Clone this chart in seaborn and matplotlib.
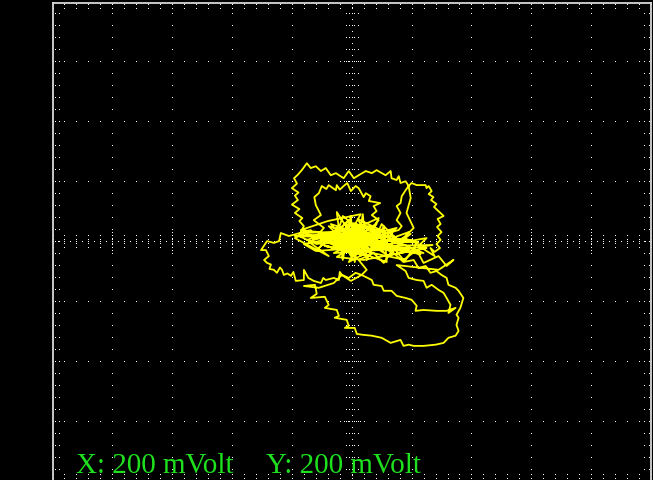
import numpy as np
import pandas as pd
import matplotlib
matplotlib.use("Agg")
import matplotlib.pyplot as plt
import seaborn as sns

# X/Y trace samples in mV (200 mV per division), in acquisition order
core_x = [-10, -43, 10, -77, 30, -27, 63, -50, -3, 40, -60, 90, -17, 23, -93, 57, -37, 7, -117, -177]
core_y = [-3, 20, -20, 7, 27, -27, 0, 47, -47, 53, -13, 13, 60, -37, 30, -20, 7, 40, -7, 20]

rim_x = [-160, -175, -165, -190, -175, -200, -180, -190, -178, -200, -183, -193, -180,
         -167, -150, -137, -120, -103, -87, -70, -53, -27, -10, 7, 23, 47, 67, 83, 113,
         130, 133, 150, 157, 163, 180, 190, 200, 217, 230, 247, 250, 257,
         267, 257, 273, 265, 283, 275, 290, 307, 287, 297, 285, 300, 287, 297, 283, 295, 277, 263, 277]
rim_y = [53, 70, 80, 97, 110, 125, 140, 155, 165, 180, 195, 213, 225,
         240, 263, 247, 253, 237, 247, 223, 230, 213, 237, 213, 223, 237, 230, 240, 223,
         237, 213, 207, 220, 197, 203, 187, 197, 190, 190, 190, 180, 187,
         170, 160, 150, 140, 127, 117, 103, 87, 77, 60, 50, 33, 20, 7, -7, -20, -33, -20, -47]

sweep_x = [223, 250, 157, 197, 107, 140, 57, 123, 23, 83, -27, 43, -70, -10, -110, -43, -143, -77, -190, -137, -210]
sweep_y = [-13, 13, -3, 27, -20, 40, 7, -47, 20, 60, -7, -40, 13, 73, -20, 40, 0, -47, 13, 40, 20]

left_x = [-237, -243, -260, -283, -303, -287, -277, -293, -283, -270, -275, -260, -250, -240, -233, -227,
          -215, -203, -195, -187, -160, -160, -145, -127, -103, -95, -87, -60, -43, -40, -33, -10,
          13, 33, 50]
left_y = [30, 3, -3, 3, -27, -27, -47, -60, -70, -75, -90, -93, -103, -85, -93, -110,
          -105, -113, -100, -130, -127, -93, -120, -130, -137, -120, -127, -120, -127, -100, -110, -120,
          -103, -110, -93]

mid_x = [23, 73, 107, 140, 173, 217, 240, 290, 317, 340, 290]
mid_y = [-60, -37, -70, -20, -60, -27, -70, -47, -80, -60, -93]

band_x = [150, 180, 190, 217, 240, 250, 267, 290, 307, 317, 330, 323, 347, 317, 283, 240,
          213, 217, 200, 180, 150, 133, 107, 100, 73, 67, 33, -3, -33]
band_y = [-77, -97, -120, -127, -130, -153, -143, -160, -170, -187, -210, -237, -220, -230, -230, -227,
          -230, -213, -193, -187, -180, -163, -163, -147, -143, -127, -110, -130, -110]

low_x = [-60, -110, -160, -123, -117, -137, -90, -77, -90, -50, -43, -57, -17, -10, -23, 10,
         17, 37, 67, 100, 130, 163, 173, 190, 207, 240, 280, 307, 323, 347, 357, 350,
         357, 350, 363, 373, 357, 347, 323, 317, 300, 283, 263, 247, 223, 207, 173]
low_y = [-137, -153, -147, -143, -173, -187, -183, -210, -220, -227, -247, -253, -260, -280, -287, -287,
         -307, -310, -313, -320, -337, -327, -347, -343, -347, -347, -343, -337, -320, -313, -297, -277,
         -253, -243, -220, -187, -163, -153, -143, -120, -110, -97, -103, -80, -87, -60, -67]

ring_x = [140, 90, 83, 67, 90, 67, 83, 73, 95, 57, 63, 47, 40, 23, 13, -3,
          -15, -27, -40, -50, -53, -77, -85, -100, -110, -125, -120, -103, -127, -93, -117]
ring_y = [-37, -13, 20, 47, 73, 90, 103, 120, 130, 137, 153, 163, 150, 180, 187, 170,
          197, 187, 175, 190, 173, 190, 177, 187, 163, 150, 123, 90, 73, 47, 20]

lobe_x = [-43, 57, 157, 167, 150, 163, 150, 163, 167, 180, 190, 197, 183, 207, 173, 223, 123, 23]
lobe_y = [-20, 13, 40, 53, 73, 97, 120, 130, 153, 173, 187, 147, 97, 47, 13, -3, 7, -13]

burst_x = [-50, -30, -3, 10, 37, 50, 107, 117, -160, 23, -127, 140, -93, 190, -60, 90,
           -27, 240, 7, 30, -17, 63, -43, 123, -77, -3, 40, 7, -27, 73, 17, -10]
burst_y = [100, -60, 87, -67, 93, -60, 53, -67, 30, 37, 13, 20, -3, -20, -37, 40,
           13, -37, 63, -47, 27, -27, 0, -7, 53, -20, 7, 20, -33, 27, -7, 13]

tangle_x = [-190, -60, -130, 40, -20, 120, 30, 200, 90, 270, 160, 230, 100, -30, 60, -90,
            0, -150, -40, 70, -10, 110, 20, 50, -70, -20, 150, 80, 190, 130, 250, 40,
            -50, 10, -110, -170, -80, 30, 0, 90, 60, -30, -60, 180, 220, 140, -10, 20,
            -120, -160, -40, 60, 100, 170, -20, 40]
tangle_y = [20, 27, 10, 30, 13, 20, 0, 7, -13, -10, -27, -40, -20, -30, -47, -13,
            -37, 7, 40, 50, 63, 33, 77, 20, 60, 3, 47, -7, 33, -43, -20, -60,
            -50, -10, 33, 40, 70, 93, 40, 80, 13, 87, -10, -60, 0, 13, -67, -20,
            -30, -7, 17, -30, 60, -10, 50, -5]

scale_labels = ["X: 200 mVolt", "Y: 200 mVolt"]

MV_PER_DIV = 200
N_XDIV, N_YDIV = 5, 4

xs = core_x + rim_x + sweep_x + left_x + mid_x + band_x + low_x + ring_x + lobe_x + burst_x + tangle_x
ys = core_y + rim_y + sweep_y + left_y + mid_y + band_y + low_y + ring_y + lobe_y + burst_y + tangle_y
trace = pd.DataFrame({"x": xs, "y": ys, "sample": np.arange(len(xs))})

sns.set_theme(style="dark")
plt.rcParams["font.family"] = ["Liberation Serif", "DejaVu Serif"]

fig = plt.figure(figsize=(6.53, 4.81), dpi=100, facecolor="black")
W, H = 653, 481
ax_h = 479.0 / H
ax_top = 1 - 3.5 / H
ax = fig.add_axes([52.5 / W, ax_top - ax_h, 598.5 / W, ax_h])
ax.set_facecolor("black")
ax.set_xlim(-N_XDIV * MV_PER_DIV, N_XDIV * MV_PER_DIV)
ax.set_ylim(-N_YDIV * MV_PER_DIV, N_YDIV * MV_PER_DIV)
ax.set_xticks([])
ax.set_yticks([])
ax.grid(False)
for side in ("left", "top", "right"):
    ax.spines[side].set_visible(True)
    ax.spines[side].set_color("#d8d8d8")
    ax.spines[side].set_linewidth(1.3)
ax.spines["bottom"].set_visible(False)

# Dotted graticule, in division units
gx, gy = [], []
def add(xv, yv):
    xv = np.atleast_1d(xv); yv = np.atleast_1d(yv)
    X, Y = np.meshgrid(xv, yv)
    gx.extend(X.ravel()); gy.extend(Y.ravel())

minor_y = np.arange(-N_YDIV, N_YDIV + 1e-9, 0.2)
minor_x = np.arange(-N_XDIV, N_XDIV + 1e-9, 0.2)
for i in range(-N_XDIV + 1, N_XDIV):
    if i == 0:
        continue
    add(i, minor_y)
    add(i, np.arange(-0.2, 0.2 + 1e-9, 0.05))
for j in range(-N_YDIV + 1, N_YDIV):
    if j == 0:
        continue
    add(minor_x, j)
    add(np.arange(-0.2, 0.2 + 1e-9, 1 / 15), j)
# centre axes with fine ticks
add(0, np.arange(-N_YDIV, N_YDIV + 1e-9, 0.1))
add(np.arange(-N_XDIV, N_XDIV + 1e-9, 0.1), 0)
for off in (-0.1, -0.04, 0.04, 0.1):
    add(off, minor_y)
    add(minor_x, off)
# border ticks
for off in (0.04, 0.11):
    add(-N_XDIV + off, minor_y)
    add(N_XDIV - off, minor_y)
    add(minor_x, N_YDIV - off)
    add(minor_x, -N_YDIV + off)

ax.plot(np.array(gx) * MV_PER_DIV, np.array(gy) * MV_PER_DIV, ",", color="white", zorder=1)

sns.lineplot(data=trace, x="x", y="y", sort=False, estimator=None, color="#ffff00",
             lw=1.3, ax=ax, zorder=3)
ax.set_xlabel("")
ax.set_ylabel("")

fig.text(76 / W, 1 - 473 / H, scale_labels[0], color="#1ee01e", fontsize=21, va="baseline", ha="left")
fig.text(266 / W, 1 - 473 / H, scale_labels[1], color="#1ee01e", fontsize=21, va="baseline", ha="left")

fig.savefig("out.png", dpi=100, facecolor="black")
